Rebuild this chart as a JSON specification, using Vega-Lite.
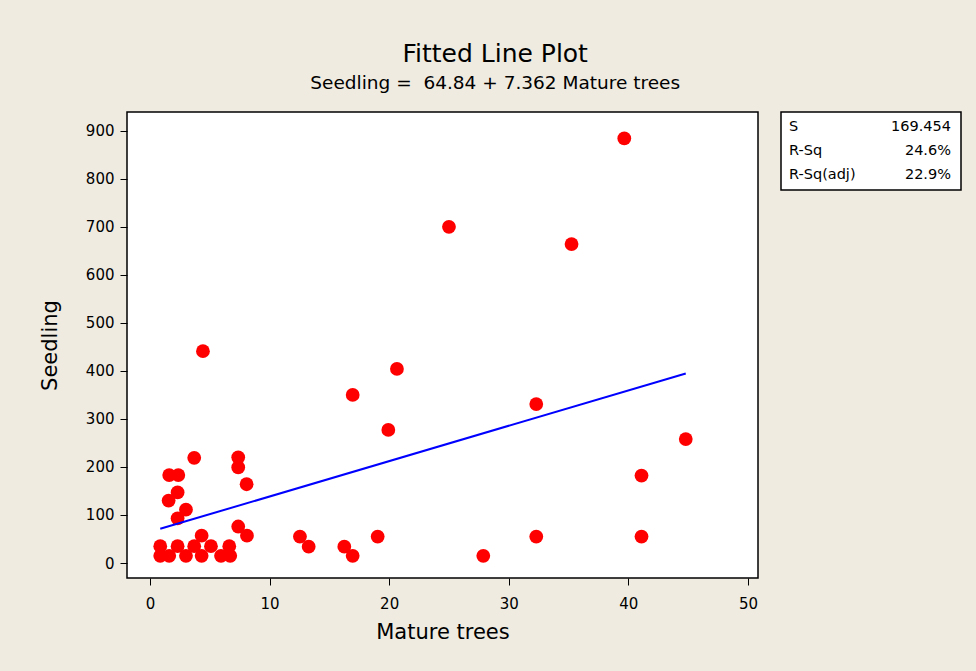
{
  "$schema": "https://vega.github.io/schema/vega-lite/v6.json",
  "background": "#EFEBE1",
  "padding": {"left": 38, "top": 41, "right": 14, "bottom": 30},
  "title": {
    "text": "Fitted Line Plot",
    "subtitle": "Seedling =\u00a0 64.84 + 7.362 Mature trees",
    "anchor": "middle",
    "frame": "bounds",
    "dx": -5,
    "font": "DejaVu Sans",
    "fontSize": 25,
    "fontWeight": "normal",
    "color": "black",
    "subtitleFont": "DejaVu Sans",
    "subtitleFontSize": 18.5,
    "subtitleColor": "black",
    "subtitlePadding": 7,
    "offset": 19
  },
  "datasets": {
    "points": [
      {"mature": 3.7, "seedling": 219},
      {"mature": 7.38, "seedling": 220},
      {"mature": 7.38, "seedling": 199},
      {"mature": 8.08, "seedling": 164},
      {"mature": 1.61, "seedling": 183},
      {"mature": 2.37, "seedling": 183},
      {"mature": 2.31, "seedling": 147},
      {"mature": 1.56, "seedling": 130},
      {"mature": 3.01, "seedling": 111},
      {"mature": 2.31, "seedling": 93},
      {"mature": 7.38, "seedling": 76},
      {"mature": 8.11, "seedling": 57},
      {"mature": 4.32, "seedling": 57},
      {"mature": 0.86, "seedling": 35},
      {"mature": 2.31, "seedling": 35},
      {"mature": 3.7, "seedling": 35},
      {"mature": 5.1, "seedling": 35},
      {"mature": 6.63, "seedling": 35},
      {"mature": 0.86, "seedling": 15},
      {"mature": 1.61, "seedling": 15},
      {"mature": 3.01, "seedling": 15},
      {"mature": 4.32, "seedling": 15},
      {"mature": 5.94, "seedling": 15},
      {"mature": 6.71, "seedling": 15},
      {"mature": 4.43, "seedling": 441},
      {"mature": 16.95, "seedling": 350},
      {"mature": 19.93, "seedling": 277},
      {"mature": 12.54, "seedling": 55},
      {"mature": 13.27, "seedling": 34},
      {"mature": 16.25, "seedling": 34},
      {"mature": 16.95, "seedling": 15},
      {"mature": 19.04, "seedling": 55},
      {"mature": 27.87, "seedling": 15},
      {"mature": 39.66, "seedling": 884},
      {"mature": 35.25, "seedling": 664},
      {"mature": 32.3, "seedling": 331},
      {"mature": 44.8, "seedling": 258},
      {"mature": 41.1, "seedling": 182},
      {"mature": 32.3, "seedling": 55},
      {"mature": 41.1, "seedling": 55},
      {"mature": 25.0, "seedling": 700},
      {"mature": 20.65, "seedling": 404}
    ],
    "fit": [
      {"mature": 0.86, "seedling": 71.2},
      {"mature": 44.8, "seedling": 394.7}
    ],
    "stats": [
      {"label": "S", "value": "169.454"},
      {"label": "R-Sq", "value": "24.6%"},
      {"label": "R-Sq(adj)", "value": "22.9%"}
    ]
  },
  "spacing": 21,
  "hconcat": [
    {
      "width": 631,
      "height": 466,
      "layer": [
        {
          "data": {"name": "points"},
          "mark": {"type": "circle", "size": 190, "color": "#FF0000", "opacity": 1},
          "encoding": {
            "x": {
              "field": "mature", "type": "quantitative",
              "scale": {"domain": [-1.92, 50.84], "nice": false, "zero": false},
              "axis": {"values": [0, 10, 20, 30, 40, 50], "title": "Mature trees"}
            },
            "y": {
              "field": "seedling", "type": "quantitative",
              "scale": {"domain": [-31.2, 939], "nice": false, "zero": false},
              "axis": {"values": [0, 100, 200, 300, 400, 500, 600, 700, 800, 900], "title": "Seedling"}
            }
          }
        },
        {
          "data": {"name": "fit"},
          "mark": {"type": "line", "color": "#0000FF", "strokeWidth": 2},
          "encoding": {
            "x": {"field": "mature", "type": "quantitative"},
            "y": {"field": "seedling", "type": "quantitative"}
          }
        }
      ]
    },
    {
      "width": 180,
      "height": 78,
      "data": {"name": "stats"},
      "encoding": {
        "y": {"field": "label", "type": "ordinal", "sort": null, "scale": {"type": "point", "padding": 0.6}, "axis": null}
      },
      "layer": [
        {
          "mark": {"type": "text", "align": "left", "baseline": "middle", "dx": 8, "fontSize": 14.5},
          "encoding": {
            "x": {"datum": "label", "type": "nominal", "scale": {"type": "point", "domain": ["label", "value"], "padding": 0}, "axis": null},
            "text": {"field": "label"}
          }
        },
        {
          "mark": {"type": "text", "align": "right", "baseline": "middle", "dx": -10, "fontSize": 14.5},
          "encoding": {
            "x": {"datum": "value", "type": "nominal"},
            "text": {"field": "value"}
          }
        }
      ]
    }
  ],
  "config": {
    "view": {"stroke": "black", "strokeWidth": 1.5, "fill": "white"},
    "axis": {
      "domain": false, "grid": false,
      "tickColor": "black", "tickSize": 7,
      "labelColor": "black", "labelFont": "DejaVu Sans", "labelFontSize": 15,
      "titleColor": "black", "titleFont": "DejaVu Sans", "titleFontSize": 21, "titleFontWeight": "normal"
    },
    "axisX": {"labelPadding": 11, "titlePadding": 10},
    "axisY": {"labelPadding": 6, "titlePadding": 25},
    "text": {"font": "DejaVu Sans", "color": "black"}
  }
}
